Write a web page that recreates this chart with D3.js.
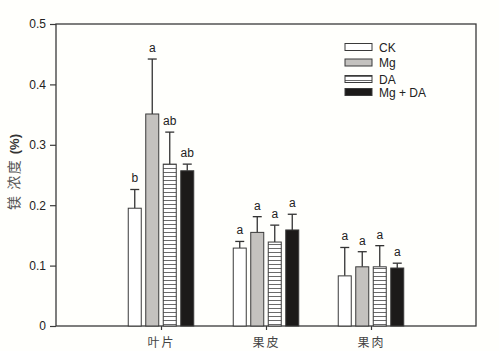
<!DOCTYPE html>
<html>
<head>
<meta charset="utf-8">
<script src="https://cdn.jsdelivr.net/npm/d3@7"></script>
<style>
  body { margin: 0; background: #fffffc; }
  svg { display: block; }
</style>
</head>
<body>
<svg id="chart" width="499" height="351"></svg>
<script>
// chart values
var categories = ["叶片", "果皮", "果肉"];
var treatments = ["CK", "Mg", "DA", "Mg + DA"];
var means = [
  [0.195, 0.351, 0.268, 0.257],
  [0.129, 0.155, 0.139, 0.159],
  [0.083, 0.098, 0.098, 0.096]
];
var errors = [
  [0.031, 0.091, 0.053, 0.011],
  [0.011, 0.026, 0.028, 0.026],
  [0.047, 0.025, 0.035, 0.008]
];
var letters = [
  ["b", "a", "ab", "ab"],
  ["a", "a", "a", "a"],
  ["a", "a", "a", "a"]
];
var yTicks = [0, 0.1, 0.2, 0.3, 0.4, 0.5];

var svg = d3.select("#chart");
var plotL = 56, plotR = 476, plotT = 24, plotB = 326;

var x = d3.scaleLinear().domain([0, 4]).range([plotL, plotR]);
var y = d3.scaleLinear().domain([0, 0.5]).range([plotB, plotT]);
var barW = 13, barStep = 17.5;

var fills = ["#ffffff", "#c4c2bf", "url(#stripes)", "#1c1a19"];
var axisCol = "#3a3a3a";

// stripe pattern for DA bars
var defs = svg.append("defs");
var pat = defs.append("pattern")
  .attr("id", "stripes")
  .attr("patternUnits", "userSpaceOnUse")
  .attr("width", 6).attr("height", 4);
pat.append("rect").attr("width", 6).attr("height", 4).attr("fill", "#fff");
pat.append("line")
  .attr("x1", 0).attr("x2", 6).attr("y1", 0.5).attr("y2", 0.5)
  .attr("stroke", "#6b6b6b").attr("stroke-width", 1);

// frame
svg.append("rect")
  .attr("x", plotL).attr("y", plotT)
  .attr("width", plotR - plotL).attr("height", plotB - plotT)
  .attr("fill", "none").attr("stroke", axisCol).attr("stroke-width", 1.3);

// y axis
var yAxis = svg.append("g")
  .attr("transform", "translate(" + plotL + ",0)")
  .call(d3.axisLeft(y).tickValues(yTicks).tickSize(6).tickPadding(4)
    .tickFormat(function(d){ return d === 0 ? "0" : d3.format(".1f")(d); }));
yAxis.select(".domain").remove();
yAxis.selectAll("line").attr("stroke", axisCol).attr("stroke-width", 1.2);
yAxis.selectAll("text")
  .style("font-family", "'Liberation Sans', Arial, sans-serif")
  .style("font-size", "12px").attr("fill", "#222");

// x axis ticks + labels
var xAxis = svg.append("g")
  .attr("transform", "translate(0," + plotB + ")")
  .call(d3.axisBottom(x).tickValues([1, 2, 3]).tickSize(4).tickPadding(8)
    .tickFormat(function(d){ return categories[d - 1]; }));
xAxis.select(".domain").remove();
xAxis.selectAll("line").attr("stroke", axisCol).attr("stroke-width", 1.2);
xAxis.selectAll("text")
  .style("font-family", "'Noto Sans CJK SC', sans-serif")
  .style("font-size", "12px").style("letter-spacing", "2px").attr("fill", "#444");

// y label
var yl = svg.append("text")
  .attr("transform", "translate(19,172) rotate(-90)")
  .attr("text-anchor", "middle");
yl.append("tspan").text("镁 浓度 ")
  .style("font-family", "'Noto Sans CJK SC', sans-serif")
  .style("letter-spacing", "1.5px")
  .style("font-size", "14px").attr("fill", "#555");
yl.append("tspan").text("(%)")
  .style("font-family", "'Liberation Sans', Arial, sans-serif")
  .style("font-size", "13px").style("font-weight", "bold").attr("fill", "#333");

// bars
var rows = [];
means.forEach(function(g, gi){
  g.forEach(function(v, ti){
    rows.push({ g: gi, t: ti, v: v, e: errors[gi][ti], lab: letters[gi][ti] });
  });
});
function cx(d){ return x(d.g + 1) + (d.t - 1.5) * barStep; }

var grp = svg.append("g");
grp.selectAll("line.err").data(rows).enter().append("line")
  .attr("class", "err")
  .attr("x1", cx).attr("x2", cx)
  .attr("y1", function(d){ return y(d.v); })
  .attr("y2", function(d){ return y(d.v + d.e); })
  .attr("stroke", "#333").attr("stroke-width", 1.3);
grp.selectAll("line.cap").data(rows).enter().append("line")
  .attr("class", "cap")
  .attr("x1", function(d){ return cx(d) - 4.5; })
  .attr("x2", function(d){ return cx(d) + 4.5; })
  .attr("y1", function(d){ return y(d.v + d.e); })
  .attr("y2", function(d){ return y(d.v + d.e); })
  .attr("stroke", "#333").attr("stroke-width", 1.3);

grp.selectAll("rect.bar").data(rows).enter().append("rect")
  .attr("class", "bar")
  .attr("x", function(d){ return cx(d) - barW / 2; })
  .attr("y", function(d){ return y(d.v); })
  .attr("width", barW)
  .attr("height", function(d){ return plotB - y(d.v); })
  .attr("fill", function(d){ return fills[d.t]; })
  .attr("stroke", "#3a3a3a").attr("stroke-width", 1);

grp.selectAll("text.lab").data(rows).enter().append("text")
  .attr("class", "lab")
  .attr("x", cx)
  .attr("y", function(d){ return y(d.v + d.e) - 7; })
  .attr("text-anchor", "middle")
  .style("font-family", "'Liberation Sans', Arial, sans-serif")
  .style("font-size", "12px").attr("fill", "#222")
  .text(function(d){ return d.lab; });

// legend
var legY = [47, 62.5, 79, 92];
var leg = svg.append("g");
treatments.forEach(function(name, i){
  leg.append("rect")
    .attr("x", 345).attr("y", legY[i] - 3.5)
    .attr("width", 27).attr("height", 7)
    .attr("fill", fills[i]).attr("stroke", "#3a3a3a").attr("stroke-width", 1);
  leg.append("text")
    .attr("x", 379).attr("y", legY[i] + 4.5)
    .style("font-family", "'Liberation Sans', Arial, sans-serif")
    .style("font-size", "12px").attr("fill", "#222")
    .text(name);
});
</script>
</body>
</html>
